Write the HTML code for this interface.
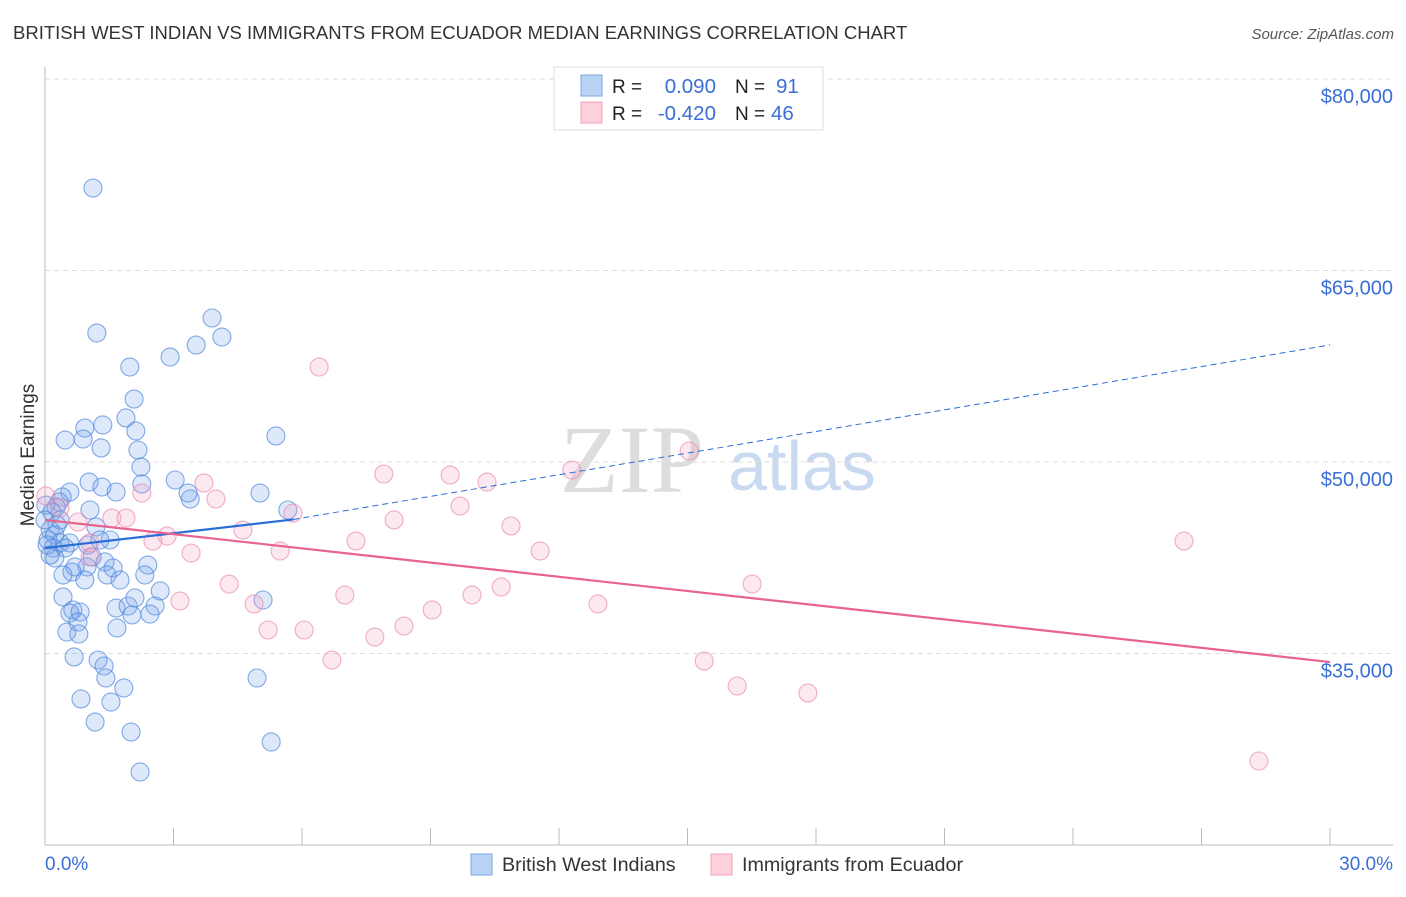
<!DOCTYPE html>
<html><head><meta charset="utf-8"><style>
body{margin:0;background:#fff;font-family:"Liberation Sans",sans-serif}
svg text{font-family:"Liberation Sans",sans-serif}
</style></head><body>
<svg id="chart" width="1406" height="892" viewBox="0 0 1406 892" xmlns="http://www.w3.org/2000/svg">
<text x="13" y="39" font-size="18.5" fill="#333">BRITISH WEST INDIAN VS IMMIGRANTS FROM ECUADOR MEDIAN EARNINGS CORRELATION CHART</text>
<text x="1394" y="39" font-size="15" fill="#555" font-style="italic" text-anchor="end">Source: ZipAtlas.com</text>
<g>
<text x="632" y="492" font-size="96" fill="#ddd" text-anchor="middle" style="font-family:'Liberation Serif',serif">ZIP</text>
<text x="802" y="490" font-size="70" fill="#c9d9ef" text-anchor="middle">atlas</text>
</g>
<g id="grid"></g>
<line x1="45" y1="67" x2="45" y2="845" stroke="#bbb"/>
<line x1="45" y1="845" x2="1393" y2="845" stroke="#bbb"/>
<g id="xticks"></g>
<text transform="translate(34,455) rotate(-90)" font-size="19" fill="#333" text-anchor="middle">Median Earnings</text>
<text x="45" y="870" font-size="19" fill="#3a6fd8">0.0%</text>
<text x="1393" y="870" font-size="19" fill="#3a6fd8" text-anchor="end">30.0%</text>
<g id="pts"></g>
<g id="lines"></g>
<g>
<rect x="554" y="67" width="269" height="63" fill="#fff" stroke="#ddd"/>
<rect x="581" y="75" width="21" height="21" fill="#b9d3f5" stroke="#7aa6e6"/>
<rect x="581" y="102" width="21" height="21" fill="#fdd0dc" stroke="#f0a3bb"/>
<text x="612" y="93" font-size="19" fill="#222">R =</text>
<text x="716" y="93" font-size="20.5" fill="#3a6fd8" text-anchor="end">0.090</text>
<text x="735" y="93" font-size="19" fill="#222">N =</text>
<text x="776" y="93" font-size="20.5" fill="#3a6fd8">91</text>
<text x="612" y="120" font-size="19" fill="#222">R =</text>
<text x="716" y="120" font-size="20.5" fill="#3a6fd8" text-anchor="end">-0.420</text>
<text x="735" y="120" font-size="19" fill="#222">N =</text>
<text x="771" y="120" font-size="20.5" fill="#3a6fd8">46</text>
</g>
<g>
<rect x="471" y="854" width="21" height="21" fill="#b9d3f5" stroke="#7aa6e6"/>
<text x="502" y="871" font-size="19.7" fill="#333">British West Indians</text>
<rect x="711" y="854" width="21" height="21" fill="#fdd0dc" stroke="#f0a3bb"/>
<text x="742" y="871" font-size="19.7" fill="#333">Immigrants from Ecuador</text>
</g>
</svg>
<script>
const yTicks=[35000,50000,65000,80000];
const yTickLabels=["$35,000","$50,000","$65,000","$80,000"];
const xTicks=[0,3,6,9,12,15,18,21,24,27,30];
const bwX=[1.12,1.21,3.90,4.13,3.53,2.92,1.98,2.08,1.89,2.12,
0.93,1.35,0.47,0.89,5.39,2.17,1.31,2.24,3.04,3.39,
3.34,5.02,2.26,1.03,1.33,1.66,0.58,0.40,0.33,1.05,
1.19,0.26,0.16,0.35,0.12,0.23,0.07,0.35,0.58,0.19,
0.23,1.52,1.10,1.40,1.59,2.40,2.33,0.98,0.70,0.63,
0.93,1.45,2.69,0.42,1.66,1.94,2.03,2.57,0.65,0.58,
0.82,0.77,0.51,0.79,1.68,5.09,0.68,1.24,1.38,1.42,
1.84,4.95,0.84,1.54,1.17,2.01,5.28,2.22,5.67,0.02,
0.05,0.28,0.47,1.28,0.12,0.42,2.10,2.45,1.75,1.00,0.00];
const bwY=[71460,60100,61280,59790,59160,58220,57440,54930,53450,52430,
52660,52900,51720,51800,52040,50940,51100,49610,48590,47100,
47570,47570,48280,48430,48040,47650,47650,47260,46870,46240,
44910,46470,46080,45460,44670,44280,43890,43660,43660,43260,
42480,43890,42560,42170,41700,41930,41150,41780,41780,41380,
40760,41150,39900,39430,38560,38720,38020,38720,38410,38170,
38250,37470,36680,36530,37000,39190,34730,34490,34020,33080,
32300,33080,31440,31200,29630,28850,28070,25720,46240,46630,
43500,45070,43260,43890,42720,41150,39350,38090,40760,43500,45460];
const ecX=[6.40,15.04,12.30,9.46,7.91,10.32,3.71,2.26,3.99,9.69,
5.79,8.15,1.56,1.89,10.88,4.62,2.85,2.52,7.26,1.05,
5.49,11.56,3.41,1.05,26.59,4.30,16.51,10.65,9.97,7.00,
3.15,4.88,12.91,9.04,8.38,5.21,6.05,7.70,6.70,15.39,
16.16,17.81,28.34,0.02,0.35,0.77];
const ecY=[57440,50860,49370,48980,49060,48430,48360,47570,47100,46550,
46000,45460,45610,45610,44990,44670,44200,43810,43810,43660,
43030,43030,42870,42560,43810,40440,40440,40210,39580,39580,
39110,38880,38880,38410,37150,36840,36840,36290,34490,34410,
32450,31910,26580,47340,46400,45300];
const bwTrendX=[0,5.8,30];
const bwTrendY=[43260,45500,59170];
const ecTrendX=[0,30];
const ecTrendY=[45460,34330];

const NS="http://www.w3.org/2000/svg";
const X=v=>45+v*(1330-45)/30;
const Y=v=>462-(v-50000)*191.5/15000;
function mk(tag,attrs,parent){const e=document.createElementNS(NS,tag);for(const k in attrs)e.setAttribute(k,attrs[k]);parent.appendChild(e);return e;}
const grid=document.getElementById('grid');
yTicks.forEach((t,i)=>{
 const l=mk('line',{x1:45,x2:1393,y1:Y(t),y2:Y(t),stroke:'#ddd','stroke-dasharray':'5,4'},grid);
 
 
 const tx=mk('text',{x:1393,y:Y(t)+24,'font-size':20,fill:'#3a6fd8','text-anchor':'end'},grid);
 tx.textContent=yTickLabels[i];
 
 
});
const xt=document.getElementById('xticks');
xTicks.forEach(t=>{
 const l=mk('line',{x1:X(t),x2:X(t),y1:828,y2:845,stroke:'#bbb'},xt);
 
 
});
const pts=document.getElementById('pts');
bwX.forEach((v,i)=>{
 const c=mk('circle',{cx:X(v),cy:Y(bwY[i]),r:9,fill:'rgba(120,165,235,0.25)',stroke:'rgba(80,135,220,0.7)','stroke-width':1.1},pts);
 
 
});
ecX.forEach((v,i)=>{
 const c=mk('circle',{cx:X(v),cy:Y(ecY[i]),r:9,fill:'rgba(245,165,195,0.25)',stroke:'rgba(235,140,175,0.7)','stroke-width':1.1},pts);
 
 
});
const lines=document.getElementById('lines');
const b1=mk('line',{x1:X(bwTrendX[0]),y1:Y(bwTrendY[0]),x2:X(bwTrendX[1]),y2:Y(bwTrendY[1]),stroke:'#2a6fd6','stroke-width':2.2},lines);


const b2=mk('line',{x1:X(bwTrendX[1]),y1:Y(bwTrendY[1]),x2:X(bwTrendX[2]),y2:Y(bwTrendY[2]),stroke:'#2a6fd6','stroke-width':1,'stroke-dasharray':'6,4'},lines);


const e1=mk('line',{x1:X(ecTrendX[0]),y1:Y(ecTrendY[0]),x2:X(ecTrendX[1]),y2:Y(ecTrendY[1]),stroke:'#e8638e','stroke-width':2.2},lines);


</script>
</body></html>
